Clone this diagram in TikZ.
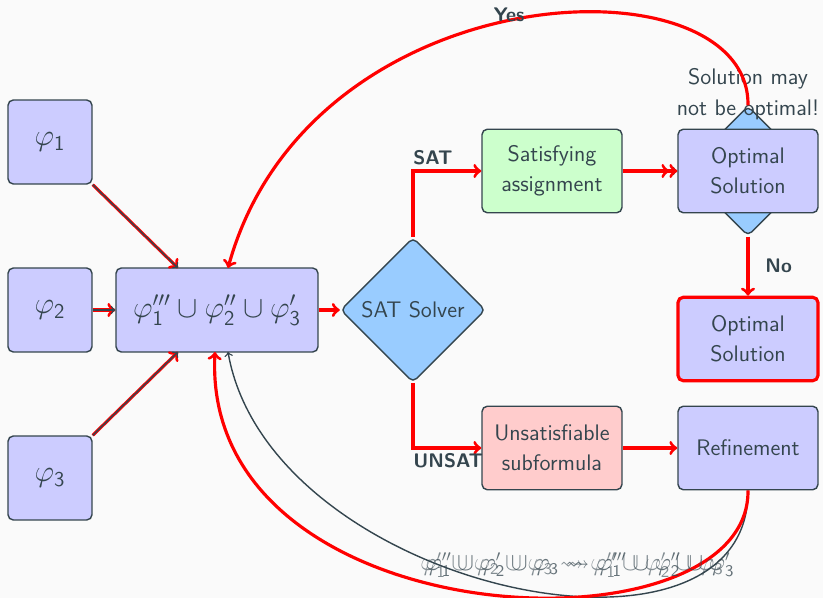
\documentclass[tikz,border=0pt,12pt]{standalone}
\usepackage{fontspec}
\usepackage{amssymb}
\usetikzlibrary{shapes.geometric}
\definecolor{textc}{HTML}{34454E}
\definecolor{bgc}{HTML}{FAFAFA}
\definecolor{diamc}{HTML}{99CCFF}
\begin{document}
\begin{tikzpicture}[x=0.02cm, y=-0.02cm, font=\sffamily\fontsize{12.8}{15}\selectfont,
    box/.style={draw=textc, fill=blue!20, rounded corners=3pt, thick, text=textc, inner sep=0pt,
      minimum width=2.8cm, minimum height=1.67cm, align=center},
    phibox/.style={box, minimum width=1.68cm, minimum height=1.68cm, font=\Large},
    decision/.style={diamond, aspect=1, draw=textc, fill=diamc, rounded corners=3pt, thick,
      text=textc, inner sep=0pt},
    redline/.style={red, line width=1.8pt},
    darkline/.style={textc, thick},
    lbl/.style={text=textc, font=\sffamily\fontsize{11.2}{13}\selectfont\bfseries},
    steptext/.style={text=textc, font=\fontsize{13.3}{15}\selectfont},
]
    \fill[bgc] (0,0) rectangle (823,598);
    \useasboundingbox (0,0) rectangle (823,598);

    % inputs
    \node[phibox] (phi1) at (50,142) {$\varphi_{\mathsf{1}}$};
    \node[phibox] (phi2) at (50,310) {$\varphi_{\mathsf{2}}$};
    \node[phibox] (phi3) at (50,478) {$\varphi_{\mathsf{3}}$};
    \node[box, minimum width=4.04cm, minimum height=1.68cm, font=\Large] (union) at (217,310)
        {$\varphi_{\mathsf{1}}''' \cup \varphi_{\mathsf{2}}'' \cup \varphi_{\mathsf{3}}'$};

    % solver and results
    \node[decision, minimum size=2.9cm] (solver) at (413,310) {SAT Solver};
    \node[box, fill=green!20] (sat) at (552,171) {Satisfying\\[2pt]assignment};
    \node[box, fill=red!20] (unsat) at (552,448) {Unsatisfiable\\[2pt]subformula};
    \node[decision, minimum size=2.6cm] (check) at (748,171) {};
    \node[box] (opt) at (748,171) {Optimal\\[2pt]Solution};
    \node[box, draw=red, line width=1.8pt] (optfinal) at (748,339) {Optimal\\[2pt]Solution};
    \node[box] (refine) at (748,448) {Refinement};
    \node[text=textc, align=center] (warn) at (748,94) {Solution may\\[3pt]not be optimal!};

    % inputs to union
    \draw[redline, ->] (phi1.south east) -- (178,268) coordinate (u1);
    \draw[darkline, ->] (phi1.south east) -- (u1);
    \draw[redline, ->] (phi2) -- (union);
    \draw[darkline, ->] (phi2) -- (union);
    \draw[redline, ->] (phi3.north east) -- (178,352) coordinate (u3);
    \draw[darkline, ->] (phi3.north east) -- (u3);
    \draw[redline, ->] (union) -- (solver);

    % branches
    \draw[redline, ->] (solver.north) |- (sat.west) coordinate[pos=0.5] (satc);
    \node[lbl, anchor=south west, inner sep=1pt] (satlbl) at ([xshift=-1pt,yshift=2pt]satc) {SAT};
    \draw[redline, ->] (solver.south) |- (unsat.west) coordinate[pos=0.5] (unsatc);
    \node[lbl, anchor=north west, inner sep=1pt] (unsatlbl) at ([xshift=-1pt,yshift=-2pt]unsatc) {UNSAT};
    \draw[darkline, ->] (sat) -- (opt);
    \draw[redline, ->>] (sat) -- (opt);
    \draw[redline, ->] (unsat) -- (refine);
    \draw[redline, ->] (check.south) -- (optfinal.north) node[midway, right=5pt, lbl] (nolbl) {No};
    \draw[redline, ->] (check.north) .. controls (750,-45) and (310,-30) .. (228,268);
    \node[lbl] (yeslbl) at (509,15) {Yes};

    % refinement loop
    \draw[darkline, ->] (refine.south) .. controls (750,690) and (270,590) .. (228,352);
    \draw[redline, ->] (refine.south) .. controls (750,660) and (200,640) .. (215,352);
    \node[steptext, text opacity=0.75] (step1) at (580,565)
        {$\varphi_{\mathsf{1}}'' \cup \varphi_{\mathsf{2}}' \cup \varphi_{\mathsf{3}} \rightsquigarrow \varphi_{\mathsf{1}}''' \cup \varphi_{\mathsf{2}}'' \cup \varphi_{\mathsf{3}}'$};
    \node[steptext, text opacity=0.6] (step0) at (572,565)
        {$\varphi_{\mathsf{1}}' \cup \varphi_{\mathsf{2}} \cup \varphi_{\mathsf{3}} \rightsquigarrow \varphi_{\mathsf{1}}'' \cup \varphi_{\mathsf{2}}' \cup \varphi_{\mathsf{3}}$};
\end{tikzpicture}
\end{document}
